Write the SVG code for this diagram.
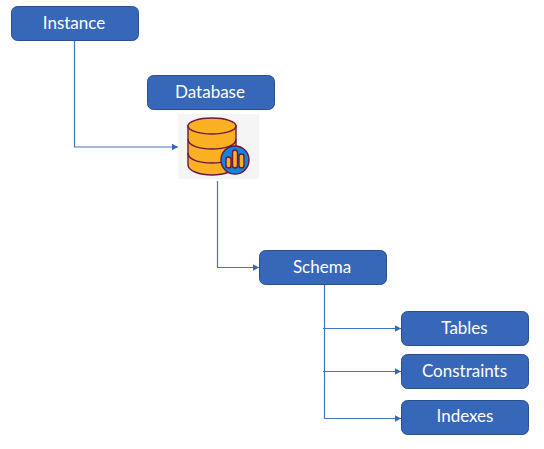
<svg xmlns="http://www.w3.org/2000/svg" width="544" height="449" viewBox="0 0 544 449">
<style>
.box{fill:#3767b8;stroke:#2a4f8f;stroke-width:1}
.lbl{font-family:Lato,"Liberation Sans",sans-serif;font-size:17px;font-weight:400;fill:#fff;text-anchor:middle}
.con{fill:none;stroke:#4472c4;stroke-width:1.2}
.ic{stroke:#6b1740;stroke-width:1.4}
</style>
<defs>
<marker id="a" markerUnits="userSpaceOnUse" markerWidth="8" markerHeight="8" refX="6.500" refY="4" orient="auto"><path d="M0 0.500L6.500 4L0 7.500Z" fill="#3767b8"/></marker>
</defs>
<rect width="544" height="449" fill="#fff"/>
<g id="connectors">
<path class="con" marker-end="url(#a)" d="M74.500 40.500V147H178"/>
<path class="con" marker-end="url(#a)" d="M217.500 181V267.500H259"/>
<path class="con" d="M324.500 285V418.500"/>
<path class="con" marker-end="url(#a)" d="M323 328.500H401"/>
<path class="con" marker-end="url(#a)" d="M323 371.500H401"/>
<path class="con" marker-end="url(#a)" d="M324.500 418.500H401"/>
</g>
<g id="instance"><rect class="box" x="11.500" y="6.500" width="127" height="34" rx="6"/><text class="lbl" x="74" y="29">Instance</text></g>
<g id="database"><rect class="box" x="147.500" y="75.500" width="127" height="34" rx="6"/><text class="lbl" x="210" y="98">Database</text></g>
<g id="db-icon">
<rect x="178" y="114" width="81" height="65" fill="#f5f5f5"/>
<path class="ic" fill="#fbb023" d="M188 126V165C188 171 200 175 212 175C224 175 236 171 236 165V126Z"/>
<ellipse class="ic" cx="212" cy="126" rx="24" ry="8" fill="#fbb023"/>
<path class="ic" fill="none" d="M188 139C188 146 200 149 212 149C224 149 236 146 236 139M188 153C188 160 200 163 212 163C224 163 236 160 236 153"/>
<circle class="ic" cx="235" cy="160" r="14" fill="#0f86e0"/>
<rect class="ic" x="226" y="157" width="5" height="11" rx="2.500" fill="#fbb023"/>
<rect class="ic" x="232.500" y="150" width="5" height="18" rx="2.500" fill="#fbb023"/>
<rect class="ic" x="239" y="154" width="5" height="14" rx="2.500" fill="#fbb023"/>
</g>
<g id="schema"><rect class="box" x="259.500" y="250.500" width="127" height="34" rx="6"/><text class="lbl" x="322" y="273">Schema</text></g>
<g id="tables"><rect class="box" x="401.500" y="311.500" width="127" height="34" rx="6"/><text class="lbl" x="464.500" y="334">Tables</text></g>
<g id="constraints"><rect class="box" x="401.500" y="354.500" width="127" height="34" rx="6"/><text class="lbl" x="464.500" y="377">Constraints</text></g>
<g id="indexes"><rect class="box" x="401.500" y="400.500" width="127" height="34" rx="6"/><text class="lbl" x="465" y="422">Indexes</text></g>
</svg>
